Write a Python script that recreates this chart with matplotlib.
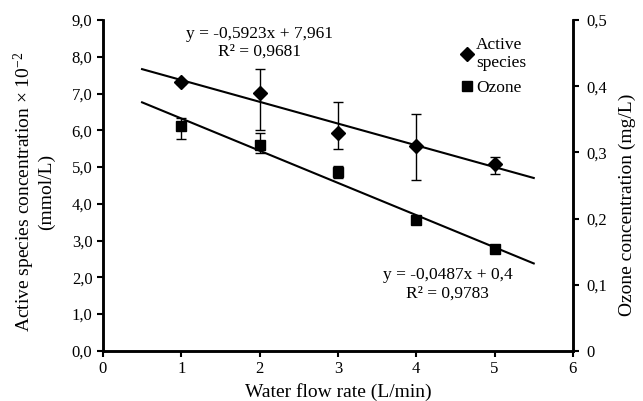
import matplotlib
matplotlib.use("Agg")
import matplotlib.pyplot as plt
from matplotlib.lines import Line2D
import numpy as np

plt.rcParams['font.family'] = ['Liberation Serif', 'DejaVu Serif']
plt.rcParams['mathtext.fontset'] = 'custom'
plt.rcParams['mathtext.rm'] = 'Liberation Serif'
plt.rcParams['mathtext.it'] = 'Liberation Serif:italic'

flow = [1, 2, 3, 4, 5]
active = [7.31, 7.02, 5.94, 5.56, 5.08]
active_err_low = [0.05, 1.00, 0.45, 0.91, 0.27]
active_err_high = [0.05, 0.64, 0.82, 0.88, 0.19]
ozone = [0.340, 0.311, 0.271, 0.198, 0.154]
ozone_err_low = [0.020, 0.012, 0.009, 0.004, 0.004]
ozone_err_high = [0.012, 0.019, 0.009, 0.004, 0.004]

fit_x = [0.5, 5.5]
active_fit = (-0.5923, 7.961)
ozone_fit = (-0.0487, 0.4)

x_ticks = [0, 1, 2, 3, 4, 5, 6]
left_ticks = [0, 1, 2, 3, 4, 5, 6, 7, 8, 9]
left_labels = ['0,0', '1,0', '2,0', '3,0', '4,0', '5,0', '6,0', '7,0', '8,0', '9,0']
right_ticks = [0, 0.1, 0.2, 0.3, 0.4, 0.5]
right_labels = ['0', '0,1', '0,2', '0,3', '0,4', '0,5']


def main():
    fig, ax = plt.subplots(figsize=(6.43, 4.01), dpi=100)
    fig.subplots_adjust(left=0.16, right=0.891, bottom=0.125, top=0.95)
    ax2 = ax.twinx()

    fx = np.array(fit_x)
    ax.plot(fx, active_fit[0] * fx + active_fit[1], color='black', lw=1.5)
    ax2.plot(fx, ozone_fit[0] * fx + ozone_fit[1], color='black', lw=1.5)

    ax.errorbar(flow, active, yerr=[active_err_low, active_err_high], fmt='D',
                color='black', ms=7, capsize=3.3, elinewidth=1, capthick=1,
                zorder=5)
    ax2.errorbar(flow, ozone, yerr=[ozone_err_low, ozone_err_high], fmt='s',
                 color='black', ms=7, capsize=3.3, elinewidth=1, capthick=1,
                 zorder=5)

    ax.set_xlim(0, 6)
    ax.set_ylim(0, 9)
    ax2.set_ylim(0, 0.5)
    ax.set_xticks(x_ticks)
    ax.set_yticks(left_ticks)
    ax.set_yticklabels(left_labels)
    ax2.set_yticks(right_ticks)
    ax2.set_yticklabels(right_labels)

    for a in (ax, ax2):
        a.spines['top'].set_visible(False)
        for s in ('left', 'right', 'bottom'):
            a.spines[s].set_linewidth(1.8)
        a.tick_params(direction='out', width=1.5, length=4, labelsize=12)
    ax2.tick_params(pad=6)

    ax.set_xlabel('Water flow rate (L/min)', fontsize=14, labelpad=4)
    ax.set_ylabel('Active species concentration × 10$^{-2}$\n(mmol/L)',
                  fontsize=14, labelpad=12, linespacing=1.05)
    ax.yaxis.label.set_y(0.48)
    ax2.set_ylabel('Ozone concentration (mg/L)', fontsize=14, labelpad=8)
    ax2.yaxis.label.set_y(0.44)

    ax.text(2.0, 8.38, 'y = -0,5923x + 7,961\nR² = 0,9681', ha='center',
            va='center', fontsize=12.5, linespacing=1.15)
    ax.text(4.4, 1.81, 'y = -0,0487x + 0,4\nR² = 0,9783', ha='center',
            va='center', fontsize=12.5, linespacing=1.15)

    handles = [Line2D([], [], ls='none', marker='D', color='black', ms=7),
               Line2D([], [], ls='none', marker='s', color='black', ms=7)]
    ax2.legend(handles, ['Active\nspecies', 'Ozone'], loc='upper right',
               bbox_to_anchor=(0.915, 0.97), frameon=False, fontsize=12.5,
               handlelength=0.6, handletextpad=0.2, labelspacing=0.5,
               borderaxespad=0)

    fig.savefig('out.png', dpi=100)


if __name__ == '__main__':
    main()
